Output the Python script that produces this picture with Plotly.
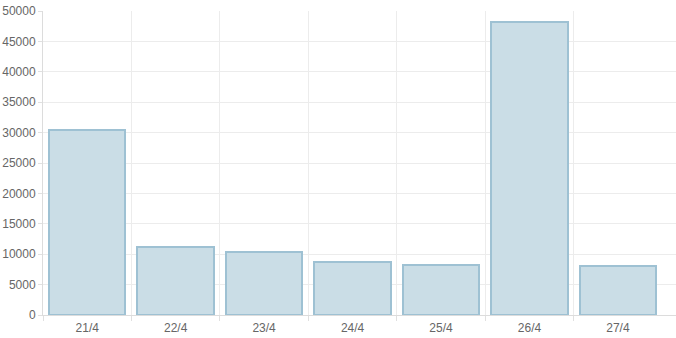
import plotly.graph_objects as go

categories = ["21/4", "22/4", "23/4", "24/4", "25/4", "26/4", "27/4"]
values = [30400, 11150, 10300, 8750, 8200, 48250, 8000]
y_ticks = list(range(0, 50001, 5000))

n = len(categories)
xs = list(range(n))

fig = go.Figure(go.Bar(
    x=xs, y=values, width=0.865,
    marker=dict(color="rgba(202,221,230,1)",
                line=dict(color="rgb(158,193,211)", width=2)),
))

grid = "#ececec"
fig.update_layout(
    width=676, height=338,
    margin=dict(l=43, r=0, t=11, b=23),
    paper_bgcolor="white", plot_bgcolor="white",
    showlegend=False,
    font=dict(family="Liberation Sans, Arial, sans-serif", size=12, color="#666666"),
    xaxis=dict(
        range=[-0.5, n - 0.5 + 0.157],
        tickmode="array", tickvals=xs, ticktext=categories,
        ticks="", showgrid=False, zeroline=False,
        showline=True, linecolor="#dcdcdc", linewidth=1,
        ticklabelstandoff=2,
        minor=dict(tickmode="array", tickvals=[i - 0.5 for i in range(n)],
                   ticks="outside", ticklen=5, tickcolor="#e0e0e0",
                   showgrid=True, gridcolor=grid, gridwidth=1),
    ),
    yaxis=dict(
        range=[0, 50000],
        tickmode="array", tickvals=y_ticks, ticktext=[str(v) for v in y_ticks],
        ticks="outside", ticklen=4, tickcolor="#e0e0e0",
        showgrid=True, gridcolor=grid, gridwidth=1,
        zeroline=False, showline=True, linecolor="#dcdcdc", linewidth=1,
    ),
    bargap=0,
)

fig.write_html("out.html")
